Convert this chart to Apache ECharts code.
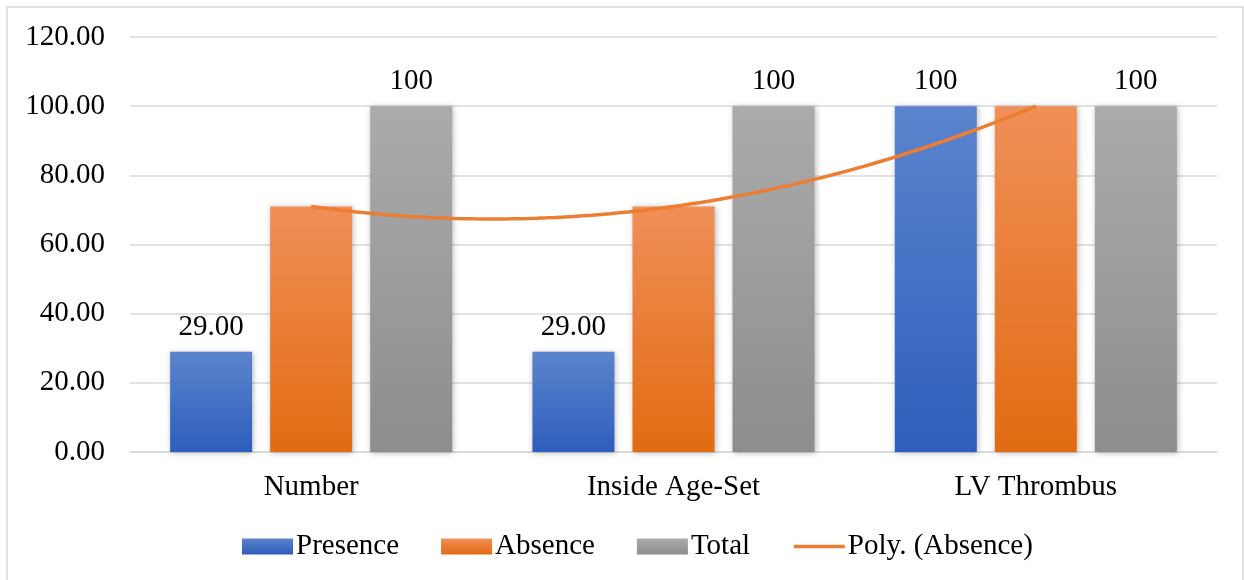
<!DOCTYPE html>
<html>
<head>
<meta charset="utf-8">
<script src="https://cdn.jsdelivr.net/npm/echarts@6/dist/echarts.min.js"></script>
<style>
  html, body { margin: 0; padding: 0; background: #ffffff; }
  #chart { width: 1244px; height: 580px; }
</style>
</head>
<body>
<div id="chart"></div>
<script>
// Categories and series values
const categories = ['Number', 'Inside Age-Set', 'LV Thrombus'];
const presence = [29, 29, 100];
const absence = [71, 71, 100];
const total = [100, 100, 100];
// Decimal places shown on each data label
const presenceDecimals = [2, 2, 0];
const totalDecimals = [0, 0, 0];
// Value axis ticks
const yTicks = [0, 20, 40, 60, 80, 100, 120];

const FONT = "'Liberation Serif', 'Times New Roman', serif";

// Least-squares polynomial (order 2) trend through a series placed at x = 1..n
function polyFit(ys, order) {
  const n = order + 1;
  const A = Array.from({ length: n }, () => new Array(n + 1).fill(0));
  ys.forEach((y, i) => {
    const x = i + 1;
    for (let r = 0; r < n; r++) {
      for (let c = 0; c < n; c++) A[r][c] += Math.pow(x, r + c);
      A[r][n] += y * Math.pow(x, r);
    }
  });
  for (let p = 0; p < n; p++) {
    let best = p;
    for (let r = p + 1; r < n; r++) if (Math.abs(A[r][p]) > Math.abs(A[best][p])) best = r;
    [A[p], A[best]] = [A[best], A[p]];
    for (let r = 0; r < n; r++) {
      if (r === p) continue;
      const f = A[r][p] / A[p][p];
      for (let c = p; c <= n; c++) A[r][c] -= f * A[p][c];
    }
  }
  return A.map((row, i) => row[n] / row[i]);
}
const coef = polyFit(absence, 2);
const trendPoints = [];
for (let k = 0; k <= 80; k++) {
  const x = 1 + (absence.length - 1) * k / 80;
  const y = coef.reduce((s, c, p) => s + c * Math.pow(x, p), 0);
  trendPoints.push([x, y]);
}

function grad(top, bottom) {
  return new echarts.graphic.LinearGradient(0, 0, 0, 1, [
    { offset: 0, color: top },
    { offset: 1, color: bottom }
  ]);
}
const barShadow = {
  shadowBlur: 6,
  shadowColor: 'rgba(0,0,0,0.28)',
  shadowOffsetX: 1,
  shadowOffsetY: 1
};
const labelStyle = {
  show: true,
  position: 'top',
  distance: 10,
  fontFamily: FONT,
  fontSize: 29,
  color: '#000000'
};

const chart = echarts.init(document.getElementById('chart'), null, { renderer: 'canvas' });
chart.setOption({
  backgroundColor: '#ffffff',
  animation: false,
  graphic: [{
    type: 'rect',
    shape: { x: 7, y: 7, width: 1236, height: 580 },
    style: { fill: 'none', stroke: '#d9d9d9', lineWidth: 1.5 },
    silent: true
  }],
  grid: { left: 130, right: 27, top: 37, bottom: 128 },
  legend: {
    bottom: 14,
    left: 237,
    itemWidth: 51,
    itemHeight: 16,
    itemGap: 42,
    textStyle: { fontFamily: FONT, fontSize: 29, color: '#000000', padding: [0, 0, 0, -2] },
    data: [
      { name: 'Presence', icon: 'rect' },
      { name: 'Absence', icon: 'rect' },
      { name: 'Total', icon: 'rect' },
      { name: 'Poly. (Absence)', itemStyle: { opacity: 0 }, lineStyle: { color: '#ed7d31', width: 3.5 } }
    ]
  },
  xAxis: [{
    type: 'category',
    data: categories,
    boundaryGap: true,
    axisLine: { show: true, lineStyle: { color: '#d9d9d9', width: 1.5 } },
    axisTick: { show: false },
    axisLabel: { fontFamily: FONT, fontSize: 29, color: '#000000', margin: 21 }
  }, {
    type: 'value',
    min: 0.5,
    max: categories.length + 0.5,
    show: false
  }],
  yAxis: {
    type: 'value',
    min: yTicks[0],
    max: yTicks[yTicks.length - 1],
    interval: yTicks[1] - yTicks[0],
    axisLine: { show: false },
    axisTick: { show: false },
    splitLine: { lineStyle: { color: '#d9d9d9', width: 1.5 } },
    axisLabel: {
      fontFamily: FONT, fontSize: 29, color: '#000000', margin: 25,
      formatter: v => v.toFixed(2)
    }
  },
  series: [
    {
      name: 'Presence',
      type: 'bar',
      data: presence,
      barWidth: 82,
      barGap: '22%',
      itemStyle: Object.assign({ color: grad('#5b84cd', '#2e5ebc') }, barShadow),
      label: Object.assign({}, labelStyle, {
        formatter: p => p.value.toFixed(presenceDecimals[p.dataIndex])
      })
    },
    {
      name: 'Absence',
      type: 'bar',
      data: absence,
      barWidth: 82,
      barGap: '22%',
      itemStyle: Object.assign({ color: grad('#f08f58', '#e26b12') }, barShadow)
    },
    {
      name: 'Total',
      type: 'bar',
      data: total,
      barWidth: 82,
      barGap: '22%',
      itemStyle: Object.assign({ color: grad('#ababab', '#8d8d8d') }, barShadow),
      label: Object.assign({}, labelStyle, {
        formatter: p => p.value.toFixed(totalDecimals[p.dataIndex])
      })
    },
    {
      name: 'Poly. (Absence)',
      type: 'line',
      xAxisIndex: 1,
      data: trendPoints,
      showSymbol: false,
      symbol: 'none',
      smooth: false,
      lineStyle: { color: '#ed7d31', width: 3.5 },
      itemStyle: { color: '#ed7d31' },
      z: 5
    }
  ]
});
</script>
</body>
</html>
